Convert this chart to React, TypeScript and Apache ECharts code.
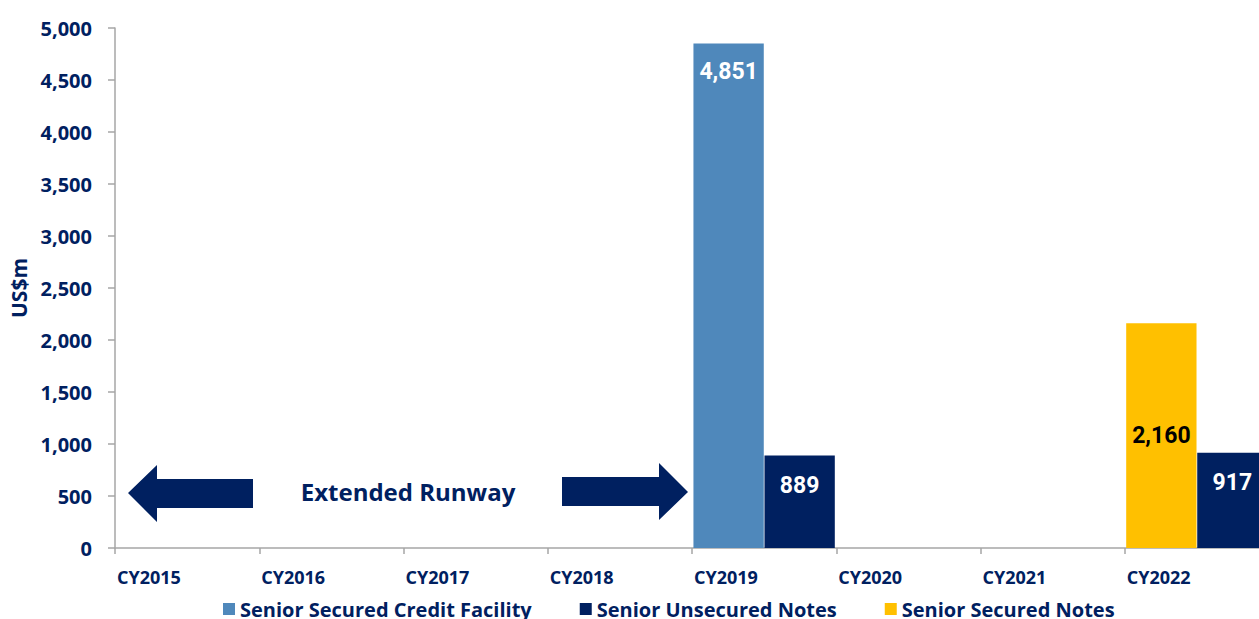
import React, { useEffect, useRef } from "react";
import * as echarts from "echarts";

const categories = ["CY2015", "CY2016", "CY2017", "CY2018", "CY2019", "CY2020", "CY2021", "CY2022"];
const creditFacility = [null, null, null, null, 4851, null, null, null];
const unsecuredNotes = [null, null, null, null, 889, null, null, 917];
const securedNotes = [null, null, null, null, null, null, null, 2160];
const seriesNames = ["Senior Secured Credit Facility", "Senior Unsecured Notes", "Senior Secured Notes"];
const yMin = 0;
const yMax = 5000;
const yStep = 500;
const runwayText = "Extended Runway";
const yTitle = "US$m";

const NAVY = "#002060";
const BLUE = "#4F88BB";
const GOLD = "#FFC000";
const GRAY = "#A6A6A6";
const FONT = "'Open Sans', 'Noto Sans', sans-serif";
const NARROW = "Roboto, 'Liberation Sans Narrow', sans-serif";

const fmt = (v: any) => (v == null ? "" : Number(v).toLocaleString("en-US"));

export default function App() {
  const ref = useRef<HTMLDivElement>(null);
  useEffect(() => {
    if (!ref.current) return;
    const chart = echarts.init(ref.current, null, { renderer: "svg" });
    const labelBase = {
      show: true,
      fontFamily: NARROW,
      fontWeight: "bold" as const,
      fontSize: 23,
      formatter: (p: any) => fmt(p.value),
    };
    chart.setOption({
      animation: false,
      backgroundColor: "#ffffff",
      grid: { left: 115, top: 28, bottom: 71, right: 0, containLabel: false },
      legend: {
        data: seriesNames,
        left: 218,
        top: 594,
        itemWidth: 12,
        itemHeight: 12,
        itemGap: 48,
        icon: "rect",
        textStyle: { color: NAVY, fontFamily: FONT, fontWeight: "bold", fontSize: 20 },
      },
      xAxis: [
        {
          type: "category",
          data: categories,
          boundaryGap: true,
          axisLine: { show: true, lineStyle: { color: GRAY, width: 1.5 } },
          axisTick: { show: true, length: 6, lineStyle: { color: GRAY, width: 1.5 } },
          axisLabel: { show: false },
        },
        {
          type: "category",
          data: [...categories, ""],
          boundaryGap: false,
          position: "bottom",
          axisLine: { show: false },
          axisTick: { show: false },
          axisLabel: {
            show: true,
            interval: 0,
            align: "left",
            margin: 20,
            padding: [0, 0, 0, 2],
            color: NAVY,
            fontFamily: FONT,
            fontWeight: "bold",
            fontSize: 18,
          },
        },
      ],
      yAxis: {
        type: "value",
        min: yMin,
        max: yMax,
        interval: yStep,
        name: yTitle,
        nameLocation: "middle",
        nameRotate: 90,
        nameGap: 82,
        nameTextStyle: { color: NAVY, fontFamily: FONT, fontWeight: "bold", fontSize: 21 },
        splitLine: { show: false },
        axisLine: { show: true, lineStyle: { color: GRAY, width: 1.5 } },
        axisTick: { show: true, length: 7, lineStyle: { color: GRAY, width: 1.5 } },
        axisLabel: {
          margin: 23,
          color: NAVY,
          fontFamily: FONT,
          fontWeight: "bold",
          fontSize: 20,
          formatter: (v: number) => fmt(v),
        },
      },
      series: [
        {
          name: seriesNames[0],
          type: "bar",
          stack: "a",
          data: creditFacility,
          barCategoryGap: "2%",
          barGap: "1%",
          itemStyle: { color: BLUE },
          label: { ...labelBase, position: "insideTop", distance: 17, color: "#ffffff" },
        },
        {
          name: seriesNames[1],
          type: "bar",
          stack: "b",
          data: unsecuredNotes,
          barCategoryGap: "2%",
          barGap: "1%",
          itemStyle: { color: NAVY },
          label: { ...labelBase, position: "insideTop", distance: 18, color: "#ffffff" },
        },
        {
          name: seriesNames[2],
          type: "bar",
          stack: "a",
          data: securedNotes,
          barCategoryGap: "2%",
          barGap: "1%",
          itemStyle: { color: GOLD },
          label: { ...labelBase, position: "inside", color: "#000000" },
        },
      ],
      graphic: [
        {
          type: "polygon",
          shape: {
            points: [
              [128, 493], [157, 465], [157, 479], [253, 479], [253, 508], [157, 508], [157, 522],
            ],
          },
          style: { fill: NAVY },
        },
        {
          type: "polygon",
          shape: {
            points: [
              [688, 492], [659, 463], [659, 477], [562, 477], [562, 506], [659, 506], [659, 520],
            ],
          },
          style: { fill: NAVY },
        },
        {
          type: "text",
          x: 408,
          y: 491,
          style: {
            text: runwayText,
            fill: NAVY,
            font: `bold 24px ${FONT}`,
            textAlign: "center",
            textVerticalAlign: "middle",
          },
        },
      ],
    });
    return () => chart.dispose();
  }, []);
  return (
    <div style={{ position: "fixed", left: 0, top: 0, width: 1259, height: 619, overflow: "hidden", background: "#fff" }}>
      <div ref={ref} style={{ width: 1272, height: 619 }} />
    </div>
  );
}
